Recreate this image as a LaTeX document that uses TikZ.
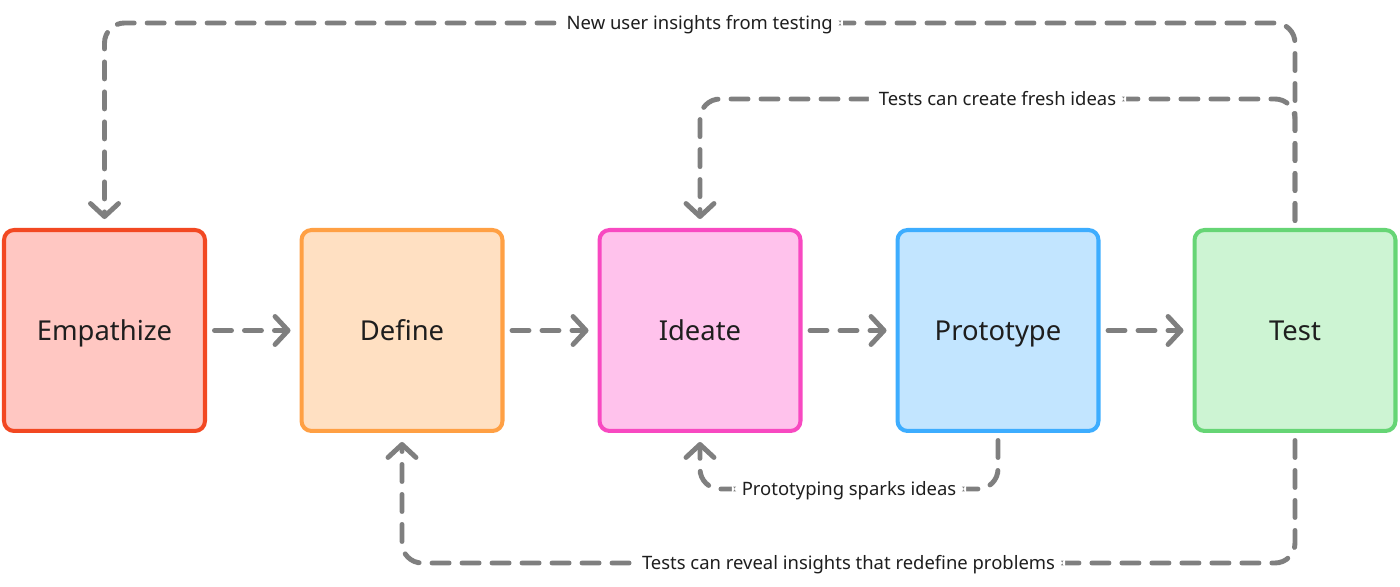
\documentclass[tikz,border=0pt]{standalone}
\usepackage{fontspec}
\setmainfont{Noto Sans}
\usetikzlibrary{arrows.meta, positioning}
\definecolor{empred}{HTML}{F24822}
\definecolor{empfill}{HTML}{FFC7C2}
\definecolor{deforange}{HTML}{FFA044}
\definecolor{deffill}{HTML}{FFE0C2}
\definecolor{idepink}{HTML}{F849C1}
\definecolor{idefill}{HTML}{FFC2EC}
\definecolor{problue}{HTML}{3DADFF}
\definecolor{profill}{HTML}{C2E5FF}
\definecolor{testgreen}{HTML}{66D575}
\definecolor{testfill}{HTML}{CDF4D3}
\definecolor{flowgray}{HTML}{7F7F7F}
\definecolor{ink}{HTML}{1E1E1E}

\begin{document}
\begin{tikzpicture}[
      x=0.02cm, y=-0.02cm,
      stage/.style={draw, line width=2.3pt, rounded corners=0.2cm,
                    minimum size=4.02cm, inner sep=0pt, text=ink,
                    text height=11pt, text depth=0pt,
                    font=\fontsize{15.6}{18}\selectfont},
      flow/.style={draw=flowgray, line width=2.8pt, line cap=round,
                   dash pattern=on 0.34cm off 0.26cm, rounded corners=0.4cm,
                   shorten <=0.15cm, shorten >=0.18cm,
                   -{Straight Barb[length=0.26cm, width=0.56cm, round]}},
      lbl/.style={fill=white, text=ink, inner xsep=0.2cm, inner ysep=2pt,
                  text height=7.5pt, text depth=0pt,
                  font=\fontsize{10.5}{12}\selectfont},
    ]
    \useasboundingbox (0,0) rectangle (1400,587);

    \node[stage, draw=empred, fill=empfill]       (emp)  at (104.5, 330.5) {Empathize};
    \node[stage, draw=deforange, fill=deffill]    (def)  at (402, 330.5)   {Define};
    \node[stage, draw=idepink, fill=idefill]      (ide)  at (700, 330.5)   {Ideate};
    \node[stage, draw=problue, fill=profill]      (pro)  at (998, 330.5)   {Prototype};
    \node[stage, draw=testgreen, fill=testfill]   (test) at (1295, 330.5)  {Test};

    % forward steps
    \draw[flow] (emp) -- (def);
    \draw[flow] (def) -- (ide);
    \draw[flow] (ide) -- (pro);
    \draw[flow] (pro) -- (test);

    % feedback loops
    \draw[flow] (test.north) -- ++(0,-205) -| (emp.north)
      node[lbl, pos=0.25] {New user insights from testing};
    \draw[flow] (test.north) -- ++(0,-129) -| (ide.north)
      node[lbl, pos=0.25] {Tests can create fresh ideas};
    \draw[flow] (pro.south) -- ++(0,56) -| (ide.south)
      node[lbl, pos=0.25] {Prototyping sparks ideas};
    \draw[flow] (test.south) -- ++(0,130) -| (def.south)
      node[lbl, pos=0.25] {Tests can reveal insights that redefine problems};
  \end{tikzpicture}
\end{document}
